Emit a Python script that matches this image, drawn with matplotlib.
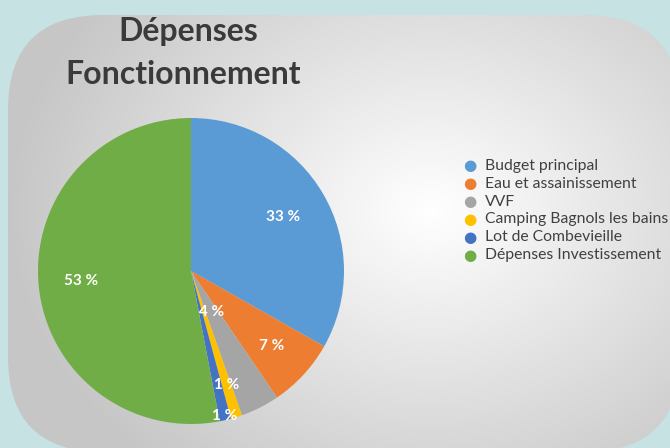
import matplotlib.pyplot as plt
import numpy as np
from matplotlib.patches import FancyBboxPatch

# data
categories = ["Budget principal", "Eau et assainissement", "VVF",
              "Camping Bagnols les bains", "Lot de Combevieille",
              "Dépenses Investissement"]
shares = [33.2, 7.3, 4.1, 1.2, 1.2, 53.0]
colors = ["#5B9BD5", "#ED7D31", "#A5A5A5", "#FFC000", "#4472C4", "#70AD47"]
label_dist = [0.70, 0.72, 0.30, 0.78, 0.97, 0.72]

plt.rcParams['font.family'] = ['Lato', 'DejaVu Sans']

fig = plt.figure(figsize=(6.7, 4.48), dpi=100)
fig.patch.set_facecolor("#c6e2e3")

# rounded grey panel with a soft radial gradient
bg = fig.add_axes([0, 0, 1, 1])
bg.set_xlim(0, 670)
bg.set_ylim(448, 0)
bg.axis("off")
yy, xx = np.mgrid[0:448, 0:670]
d = np.sqrt(((xx - 430) / 380.0) ** 2 + ((yy - 210) / 300.0) ** 2)
shade = np.clip(1.0 - 0.20 * d, 0.78, 1.0)
img = bg.imshow(np.dstack([shade, shade, shade]),
                extent=(0, 670, 448, 0), zorder=1)
panel = FancyBboxPatch((8, 15), 672, 437, boxstyle="round,pad=0,rounding_size=95",
                       transform=bg.transData, facecolor="none", edgecolor="none")
bg.add_patch(panel)
img.set_clip_path(panel)

# pie
ax = fig.add_axes([38 / 670, 24 / 448, 306 / 670, 306 / 448])
wedges, _ = ax.pie(shares, colors=colors, startangle=90, counterclock=False,
                   radius=1.0, wedgeprops=dict(linewidth=0))
ax.set_xlim(-1, 1)
ax.set_ylim(-1, 1)
ax.set_aspect("equal")
for w, v, r in zip(wedges, shares, label_dist):
    ang = np.deg2rad((w.theta1 + w.theta2) / 2)
    ax.text(r * np.cos(ang), r * np.sin(ang), f"{round(v)} %", color="white",
            fontsize=11, fontweight="bold", ha="center", va="center")

fig.text(188 / 670, 1 - 31 / 448, "Dépenses", fontsize=23, fontweight="bold",
         color="#3a3a3a", ha="center", va="center")
fig.text(183 / 670, 1 - 75 / 448, "Fonctionnement", fontsize=23, fontweight="bold",
         color="#3a3a3a", ha="center", va="center")

# legend drawn as markers + labels
for i, (c, name) in enumerate(zip(colors, categories)):
    y = 1 - (166 + i * 17.8) / 448
    fig.text(470 / 670, y, "●", color=c, fontsize=11,
             ha="center", va="center", family="DejaVu Sans")
    fig.text(485 / 670, y, name, color="#404040", fontsize=11.3,
             ha="left", va="center")

fig.savefig("out.png", dpi=100, facecolor=fig.get_facecolor())
